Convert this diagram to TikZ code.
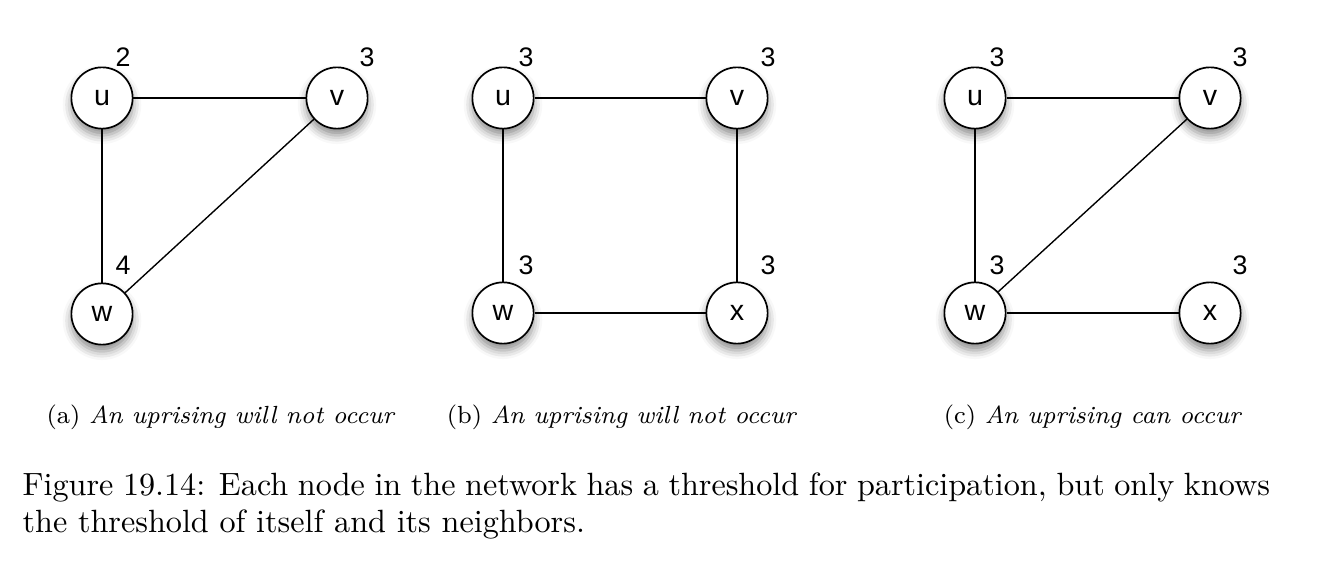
\documentclass[tikz,border=0pt]{standalone}
\usepackage{fontspec}
\usepackage{tikz}
\newfontfamily\agentfont{Liberation Sans}
\usetikzlibrary{positioning, shadows.blur}

\tikzset{
  agent/.style={circle, draw, line width=0.55pt, fill=white, minimum size=19.9pt, inner sep=0pt,
    font=\agentfont\fontsize{9.3}{10}\selectfont,
    blur shadow={shadow xshift=0pt, shadow yshift=-2.2pt, shadow blur radius=2.8pt, shadow opacity=45}},
  thr/.style={inner sep=0pt, font=\agentfont\fontsize{8.7}{10}\selectfont},
  edge/.style={line width=0.45pt},
  subcap/.style={anchor=base, inner sep=0pt, font=\fontsize{8.05}{10}\selectfont},
}

\begin{document}
\begin{tikzpicture}[x=0.3247pt, y=-0.3247pt]
    \useasboundingbox (0,0) rectangle (1326,576);
    % (a) triangle
    \node[agent] (au) at (102,98) {u};
    \node[agent] (av) at (337,98) {v};
    \node[agent] (aw) at (102,314) {w};
    \node[thr] (au-t) at (123,57) {2};
    \node[thr] (av-t) at (367,57) {3};
    \node[thr] (aw-t) at (123,265) {4};
    \draw[edge] (au) -- (av);
    \draw[edge] (au) -- (aw);
    \draw[edge] (aw) -- (av);
    % (b) square
    \node[agent] (bu) at (503,98) {u};
    \node[agent] (bv) at (737,98) {v};
    \node[agent] (bw) at (503,313) {w};
    \node[agent] (bx) at (737,313) {x};
    \node[thr] (bu-t) at (526,57) {3};
    \node[thr] (bv-t) at (768,57) {3};
    \node[thr] (bw-t) at (526,265) {3};
    \node[thr] (bx-t) at (768,265) {3};
    \draw[edge] (bu) -- (bv);
    \draw[edge] (bu) -- (bw);
    \draw[edge] (bv) -- (bx);
    \draw[edge] (bw) -- (bx);
    % (c) square with a diagonal
    \node[agent] (cu) at (975,98) {u};
    \node[agent] (cv) at (1210,98) {v};
    \node[agent] (cw) at (975,313) {w};
    \node[agent] (cx) at (1210,313) {x};
    \node[thr] (cu-t) at (997,57) {3};
    \node[thr] (cv-t) at (1240,57) {3};
    \node[thr] (cw-t) at (997,265) {3};
    \node[thr] (cx-t) at (1240,265) {3};
    \draw[edge] (cu) -- (cv);
    \draw[edge] (cu) -- (cw);
    \draw[edge] (cw) -- (cv);
    \draw[edge] (cw) -- (cx);
    % captions
    \node[subcap] (capa) at (221,423) {(a) \textit{An uprising will not occur}};
    \node[subcap] (capb) at (622,423) {(b) \textit{An uprising will not occur}};
    \node[subcap] (capc) at (1093,423) {(c) \textit{An uprising can occur}};
    \node[anchor=north west, inner sep=0pt, align=left, font=\fontsize{10.45}{12}\selectfont] (fig) at (22,472)
      {\hbox to 405pt{Figure 19.14: Each node in the network has a threshold for participation, but only knows}\\
       the threshold of itself and its neighbors.};
\end{tikzpicture}
\end{document}
